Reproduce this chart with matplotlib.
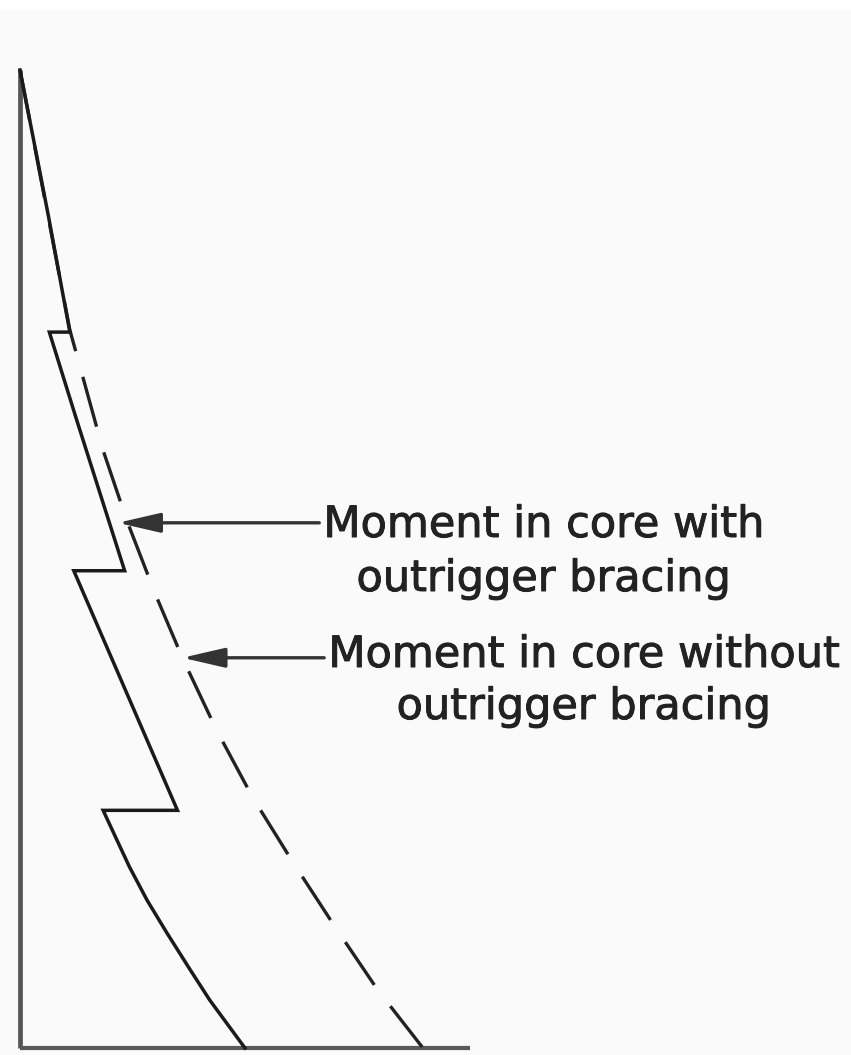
import matplotlib
matplotlib.use("Agg")
import matplotlib.pyplot as plt
import matplotlib.patheffects as pe
from matplotlib.patches import Rectangle
import numpy as np

# Core bending moment along the building height (height in % of total height,
# moment in the same relative units).
height_without = [100, 73.4, 61.1, 54.0, 46.5, 39.9, 32.5, 25.6, 19.0, 12.4, 5.9, 0]
moment_without = [0, 5.1, 8.5, 10.9, 13.8, 16.6, 20.1, 23.8, 27.9, 32.2, 36.6, 41.2]

# With outriggers the moment drops back at each outrigger level.
height_with = [100, 85.1, 73.2, 73.2, 64.2, 48.8, 48.8, 24.3,
               24.3, 21.5, 18.5, 15.1, 11.8, 8.0, 4.9, 0]
moment_with = [0, 2.9, 5.1, 3.0, 5.8, 10.7, 5.5, 16.1,
               8.5, 9.8, 11.2, 13.0, 15.0, 17.4, 19.4, 23.0]

building_top = 100
base_extent = 46.0

label_with = ["Moment in core with", "outrigger bracing"]
label_without = ["Moment in core without", "outrigger bracing"]

W, H, DPI = 851, 1055, 100
PX = 9.78          # pixels per unit
X0, Y0 = 20, 1048  # pixel position of the origin

fig = plt.figure(figsize=(W / DPI, H / DPI), dpi=DPI, facecolor="#fafafa")
fig.patches.append(Rectangle((0, 1 - 9 / H), 1, 9 / H, transform=fig.transFigure,
                             facecolor="white", edgecolor="none", zorder=-1))
ax = fig.add_axes([0, 0, 1, 1])
ax.set_xlim(-X0 / PX, (W - X0) / PX)
ax.set_ylim((Y0 - H) / PX, Y0 / PX)
ax.axis("off")
ax.set_facecolor("none")

# height axis and base line
ax.plot([0, 0], [0, building_top], color="#555555", lw=3.4, solid_capstyle="butt")
ax.plot([0, base_extent], [0, 0], color="#5a5a5a", lw=3.0, solid_capstyle="butt")

# moment diagrams
ax.plot(moment_without, height_without, color="#222222", lw=2.4,
        dashes=(15.5, 8.0), dash_capstyle="butt", solid_joinstyle="round")
ax.plot(moment_with, height_with, color="#1a1a1a", lw=2.5,
        solid_joinstyle="miter")

txt = dict(fontsize=31, family="DejaVu Sans", color="#222222", va="baseline", ha="center",
           path_effects=[pe.withStroke(linewidth=0.7, foreground="#222222")])
arrow = dict(arrowstyle="-|>,head_length=1.3,head_width=0.3", color="#333333",
             lw=2.4, mutation_scale=20, shrinkA=0, shrinkB=0)

# label for the braced core
z1 = 53.7
ax.annotate("", xy=(10.0, z1), xytext=(30.6, z1), arrowprops=arrow)
ax.text(53.5, (Y0 - 537) / PX, label_with[0], **txt)
ax.text(53.5, (Y0 - 591) / PX, label_with[1], **txt)

# label for the unbraced core
z2 = 39.9
tip2 = np.interp(z2, height_without[::-1], moment_without[::-1])
ax.annotate("", xy=(tip2, z2), xytext=(31.1, z2), arrowprops=arrow)
ax.text(57.6, (Y0 - 667) / PX, label_without[0], **txt)
ax.text(57.6, (Y0 - 719) / PX, label_without[1], **txt)

fig.savefig("out.png", dpi=DPI, facecolor=fig.get_facecolor())
